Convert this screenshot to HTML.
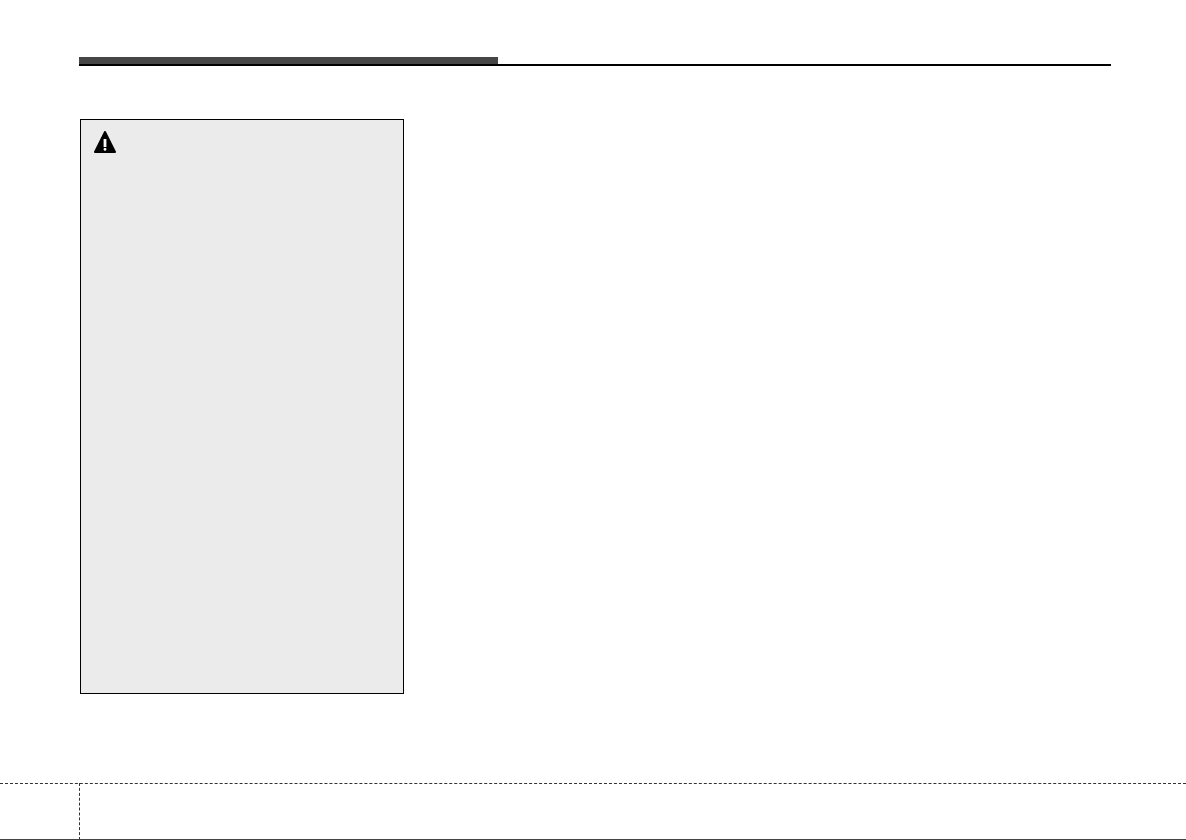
<!DOCTYPE html>
<html><head><style>
body{margin:0;width:1186px;height:840px;background:#fff;position:relative;overflow:hidden}
div{position:absolute}
</style></head><body>
<div style="left:79px;top:57px;width:419px;height:8px;background:#464646"></div>
<div style="left:79px;top:64px;width:1032px;height:2px;background:#000"></div>
<div style="left:80px;top:119px;width:322px;height:573px;background:#ebebeb;border:1px solid #000"></div>
<svg style="position:absolute;left:93px;top:130px" width="24" height="24" viewBox="0 0 24 24"><path d="M12 2 L22 22 L2 22 Z" fill="#000" stroke="#000" stroke-linejoin="round" stroke-width="2"/><rect x="10.6" y="9" width="2.8" height="8" fill="#fff"/><circle cx="12" cy="19.3" r="1.4" fill="#fff"/></svg>
<div style="left:0;top:783px;width:1186px;border-top:1px dashed #333"></div>
<div style="left:79px;top:783px;height:57px;border-left:1px dashed #333"></div>
<div style="left:0;top:839px;width:1186px;height:1px;background:#444"></div>
</body></html>
